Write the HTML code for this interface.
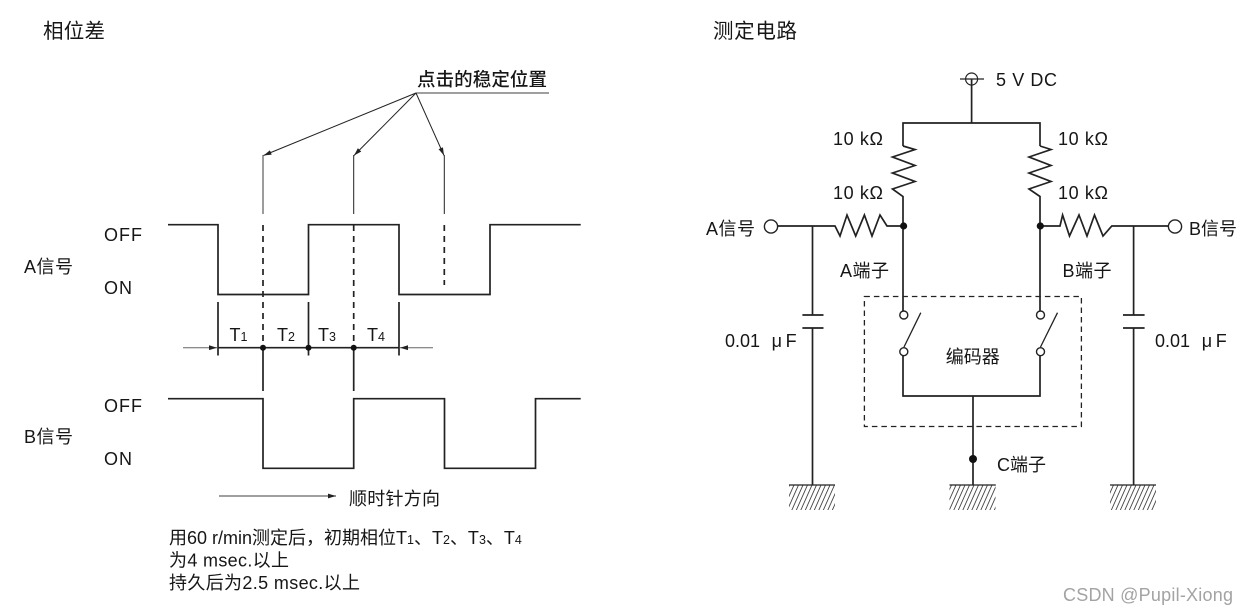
<!DOCTYPE html>
<html>
<head>
<meta charset="utf-8">
<style>
html,body{margin:0;padding:0;background:#fff;width:1245px;height:614px;overflow:hidden}
svg{display:block}
text{font-family:"Liberation Sans","Noto Sans CJK SC",sans-serif;fill:#161616;font-size:18px}
.w{fill:none;stroke:#222;stroke-width:1.7}
.t{fill:none;stroke:#222;stroke-width:1}
.g{fill:none;stroke:#666;stroke-width:1.2}
.d{fill:none;stroke:#222;stroke-width:1.7;stroke-dasharray:6 5}
.c{fill:#fff;stroke:#222;stroke-width:1.4}
.n{fill:#111}
tspan.s{font-size:12.5px}
</style>
</head>
<body>
<svg width="1245" height="614" viewBox="0 0 1245 614" xmlns="http://www.w3.org/2000/svg">
<defs>
<marker id="a" markerUnits="userSpaceOnUse" markerWidth="9" markerHeight="6" refX="8" refY="3" orient="auto"><path d="M0 .6L8 3L0 5.4z" fill="#222"/></marker>
<pattern id="h" patternUnits="userSpaceOnUse" width="4.5" height="25" patternTransform="translate(0 485) skewX(-24)"><line x1="2" y1="0" x2="2" y2="25" stroke="#333" stroke-width=".9"/></pattern>
</defs>

<!-- Titles -->
<text x="43" y="38" style="font-size:20.5px" textLength="62">相位差</text>
<text x="713" y="38" style="font-size:20.5px" textLength="84">测定电路</text>

<!-- Leaders -->
<text x="417" y="86" style="font-size:18.5px;font-weight:500" textLength="130">点击的稳定位置</text>
<line class="g" x1="416" y1="93" x2="549" y2="93"/>
<line class="t" x1="416" y1="93" x2="263.5" y2="155.5" marker-end="url(#a)"/>
<line class="t" x1="416" y1="93" x2="354" y2="155.5" marker-end="url(#a)"/>
<line class="t" x1="416" y1="93" x2="444" y2="155.5" marker-end="url(#a)"/>
<line class="g" x1="263" y1="155" x2="263" y2="214" style="stroke-width:1.3"/>
<line class="t" x1="353.7" y1="155" x2="353.7" y2="214"/>
<line class="t" x1="444.3" y1="155" x2="444.3" y2="214"/>
<line class="d" x1="263" y1="225" x2="263" y2="347"/>
<line class="d" x1="353.7" y1="225" x2="353.7" y2="347"/>
<line class="d" x1="444.3" y1="225" x2="444.3" y2="285"/>

<!-- A wave -->
<path class="w" d="M168 224.7H218V294.5H308.5V224.7H399V294.5H490V224.7H580.7"/>
<!-- B wave -->
<path class="w" d="M168 398.7H263V468.3H353.7V398.7H444.5V468.3H535.5V398.7H580.7"/>

<text x="104" y="241" textLength="38">OFF</text>
<text x="104" y="294" textLength="28">ON</text>
<text x="24" y="273" textLength="49">A信号</text>
<text x="104" y="412" textLength="38">OFF</text>
<text x="104" y="465" textLength="28">ON</text>
<text x="24" y="443" textLength="49">B信号</text>

<!-- Timing -->
<line class="w" x1="218" y1="302" x2="218" y2="355.5"/>
<line class="w" x1="308.5" y1="302" x2="308.5" y2="355.5"/>
<line class="w" x1="399" y1="302" x2="399" y2="355.5"/>
<line class="w" x1="218" y1="347.7" x2="399" y2="347.7"/>
<line class="w" x1="263" y1="347.7" x2="263" y2="391"/>
<line class="w" x1="353.7" y1="347.7" x2="353.7" y2="391"/>
<line class="g" x1="183" y1="347.7" x2="217" y2="347.7" style="stroke-width:1" marker-end="url(#a)"/>
<line class="g" x1="433" y1="347.7" x2="400" y2="347.7" style="stroke-width:1" marker-end="url(#a)"/>
<circle class="n" cx="263" cy="347.7" r="3"/>
<circle class="n" cx="308.5" cy="347.7" r="3"/>
<circle class="n" cx="353.7" cy="347.7" r="3"/>
<text x="229.5" y="341">T<tspan class="s">1</tspan></text>
<text x="277" y="341">T<tspan class="s">2</tspan></text>
<text x="318" y="341">T<tspan class="s">3</tspan></text>
<text x="367" y="341">T<tspan class="s">4</tspan></text>

<!-- Direction -->
<line class="g" x1="219" y1="496" x2="336" y2="496" marker-end="url(#a)"/>
<text x="349" y="505" textLength="91">顺时针方向</text>

<!-- Notes -->
<text x="169" y="544">用60 r/min测定后，初期相位T<tspan class="s">1</tspan>、T<tspan class="s">2</tspan>、T<tspan class="s">3</tspan>、T<tspan class="s">4</tspan></text>
<text x="169" y="566.5" textLength="120">为4 msec.以上</text>
<text x="169" y="589" textLength="191">持久后为2.5 msec.以上</text>

<!-- Power -->
<circle cx="971.6" cy="79" r="6" fill="none" stroke="#222" stroke-width="1.2"/>
<line class="t" x1="960" y1="79" x2="984" y2="79" style="stroke-width:1.3"/>
<line class="w" x1="971.6" y1="79" x2="971.6" y2="123"/>
<text x="996" y="86" textLength="61">5 V DC</text>
<path class="w" d="M903 146V123H1040V146"/>

<!-- Vertical resistors -->
<path class="w" d="M903 146L915 149.5L892.5 157L915 165.5L892.5 173L915 181.5L892.5 189L903 196.5V311"/>
<path class="w" d="M1040 146L1051 149.5L1029 157L1051 165.5L1029 173L1051 181.5L1029 189L1040 196.5V311"/>
<text x="833" y="145" textLength="50">10 kΩ</text>
<text x="833" y="199" textLength="50">10 kΩ</text>
<text x="1058" y="145" textLength="50">10 kΩ</text>
<text x="1058" y="199" textLength="50">10 kΩ</text>

<!-- Horizontal resistors -->
<path class="w" d="M778 226H835L840 236L847 215L855.7 236L864.4 215L872 236L880 215L887 226H903"/>
<path class="w" d="M1040 226H1060L1062.6 215L1069.5 236L1079 215L1087 236L1094.5 215L1103 236L1111.8 226H1168"/>
<circle class="n" cx="903.6" cy="226" r="3.6"/>
<circle class="n" cx="1040.3" cy="226" r="3.6"/>
<circle class="c" cx="771" cy="226.5" r="6.6"/>
<circle class="c" cx="1175" cy="226.5" r="6.6"/>
<text x="706" y="235" textLength="49">A信号</text>
<text x="1189" y="235" textLength="48">B信号</text>
<text x="840" y="277" textLength="49">A端子</text>
<text x="1062.5" y="277" textLength="49">B端子</text>

<!-- Capacitors -->
<path class="w" d="M812.5 226V315M802.4 315H823.5M802.4 328H823.5M812.5 328V485"/>
<path class="w" d="M1133.6 226V315M1123 315H1144.6M1123 328H1144.6M1133.6 328V485"/>
<text x="725" y="347">0.01</text>
<text x="771.6" y="347" textLength="25">μ F</text>
<text x="1155" y="347">0.01</text>
<text x="1201.7" y="347" textLength="25">μ F</text>

<!-- Encoder -->
<rect x="864.4" y="296.5" width="217" height="130" fill="none" stroke="#222" stroke-width="1.3" stroke-dasharray="5.5 4"/>
<circle class="c" cx="903.8" cy="315" r="4"/>
<circle class="c" cx="903.8" cy="351.7" r="4"/>
<circle class="c" cx="1040.5" cy="315" r="4"/>
<circle class="c" cx="1040.5" cy="351.7" r="4"/>
<line class="t" x1="904" y1="347" x2="920.8" y2="312.7" style="stroke-width:1.3"/>
<line class="t" x1="1040.5" y1="347" x2="1057.5" y2="312.7" style="stroke-width:1.3"/>
<path class="w" d="M903 356V396H1040V356"/>
<line class="w" x1="973" y1="396" x2="973" y2="485"/>
<circle class="n" cx="973" cy="459" r="4"/>
<text x="945.7" y="363" textLength="54">编码器</text>
<text x="997" y="471" textLength="49">C端子</text>

<!-- Grounds -->
<rect x="789" y="485" width="46" height="25" fill="url(#h)"/>
<rect x="949.5" y="485" width="46" height="25" fill="url(#h)"/>
<rect x="1110" y="485" width="46" height="25" fill="url(#h)"/>
<line class="t" x1="789" y1="485" x2="835" y2="485" style="stroke-width:1.2"/>
<line class="t" x1="949.5" y1="485" x2="995.8" y2="485" style="stroke-width:1.2"/>
<line class="t" x1="1110" y1="485" x2="1156" y2="485" style="stroke-width:1.2"/>

<text x="1063" y="601" style="font-size:18px;fill:#a3a3a3" textLength="170">CSDN @Pupil-Xiong</text>
</svg>
</body>
</html>
